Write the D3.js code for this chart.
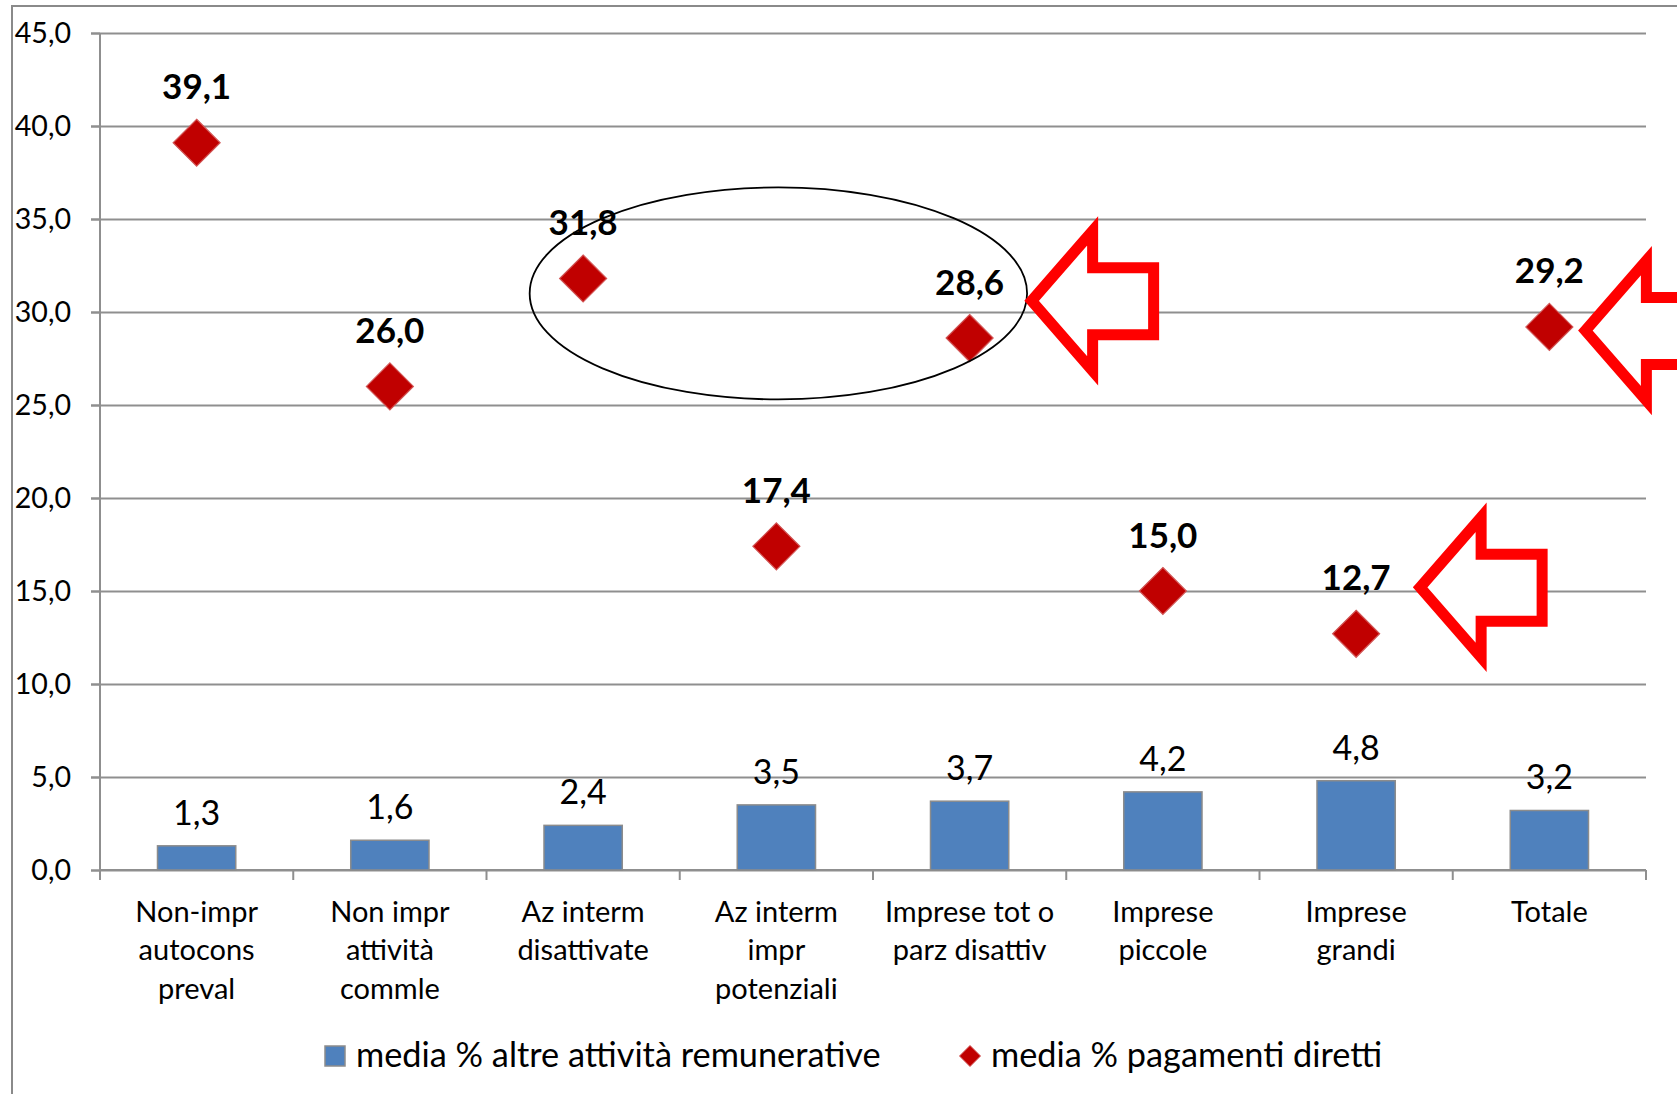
<!DOCTYPE html>
<html>
<head>
<meta charset="utf-8">
<script src="https://cdn.jsdelivr.net/npm/d3@7"></script>
<style>
  body { margin: 0; background: #fff; }
  svg { display: block; font-family: Lato, "Open Sans", sans-serif; }
</style>
</head>
<body>
<div class="canvas"></div>
<script>
// data
const categories = [
  "Non-impr autocons preval",
  "Non impr attività commle",
  "Az interm disattivate",
  "Az interm impr potenziali",
  "Imprese tot o parz disattiv",
  "Imprese piccole",
  "Imprese grandi",
  "Totale"
];
const categoryLines = [
  ["Non-impr", "autocons", "preval"],
  ["Non impr", "attività", "commle"],
  ["Az interm", "disattivate"],
  ["Az interm", "impr", "potenziali"],
  ["Imprese tot o", "parz disattiv"],
  ["Imprese", "piccole"],
  ["Imprese", "grandi"],
  ["Totale"]
];
const altreAttivita = [1.3, 1.6, 2.4, 3.5, 3.7, 4.2, 4.8, 3.2];
const pagamentiDiretti = [39.1, 26.0, 31.8, 17.4, 28.6, 15.0, 12.7, 29.2];
const yTicks = [0, 5, 10, 15, 20, 25, 30, 35, 40, 45];
const legendLabels = ["media % altre attività remunerative", "media % pagamenti diretti"];

// annotations (category, value where the arrow tip sits)
const arrows = [
  { cat: "Imprese tot o parz disattiv", val: 30.6, dx: 60 },
  { cat: "Totale", val: 29.0, dx: 34 },
  { cat: "Imprese grandi", val: 15.2, dx: 62 }
];

const dims = { w: 1677, h: 1094 };
const plot = { left: 100, right: 1646, top: 33, bottom: 870 };

const it = d3.formatLocale({ decimal: ",", thousands: ".", grouping: [3], currency: ["", "€"] });
const fmt = it.format(".1f");

const svg = d3.select(".canvas")
  .append("svg")
  .attr("width", dims.w)
  .attr("height", dims.h);

svg.append("rect").attr("width", dims.w).attr("height", dims.h).attr("fill", "#fff");

// outer chart frame (cropped at right / bottom)
svg.append("path")
  .attr("d", `M12,${dims.h} V6 H${dims.w}`)
  .attr("fill", "none")
  .attr("stroke", "#8a8a8a")
  .attr("stroke-width", 2);

const x = d3.scaleBand()
  .domain(categories)
  .range([plot.left, plot.right]);

const y = d3.scaleLinear()
  .domain([0, 45])
  .range([plot.bottom, plot.top]);

const bw = x.bandwidth();
const cx = c => x(c) + bw / 2;

// gridlines
const grid = svg.append("g")
  .attr("transform", `translate(${plot.left - 9},0)`)
  .call(d3.axisLeft(y).tickValues(yTicks).tickFormat("").tickSize(-(plot.right - plot.left + 9)));
grid.select(".domain").remove();
grid.selectAll("line").attr("stroke", "#8f8f8f").attr("stroke-width", 2);

// y axis
const yAxis = svg.append("g")
  .attr("transform", `translate(${plot.left},0)`)
  .call(d3.axisLeft(y).tickValues(yTicks).tickFormat(fmt).tickSize(9).tickPadding(20));
yAxis.select(".domain").attr("stroke", "#8f8f8f").attr("stroke-width", 2).attr("d", `M0,${plot.top}V${plot.bottom}`);
yAxis.selectAll("line").attr("stroke", "#8f8f8f").attr("stroke-width", 2);
yAxis.selectAll("text")
  .attr("font-size", 28.6)
  .attr("font-family", "Lato, sans-serif")
  .attr("fill", "#000");

// x axis
svg.append("line")
  .attr("x1", plot.left).attr("x2", plot.right)
  .attr("y1", plot.bottom).attr("y2", plot.bottom)
  .attr("stroke", "#8f8f8f").attr("stroke-width", 2);

svg.append("g")
  .selectAll("line")
  .data(categories.map(c => x(c)).concat([plot.right]))
  .enter()
  .append("line")
  .attr("x1", d => d).attr("x2", d => d)
  .attr("y1", plot.bottom).attr("y2", plot.bottom + 10)
  .attr("stroke", "#8f8f8f").attr("stroke-width", 2);

const catLabels = svg.append("g")
  .selectAll("text")
  .data(categories)
  .enter()
  .append("text")
  .attr("text-anchor", "middle")
  .attr("font-size", 29)
  .attr("fill", "#000");

catLabels.selectAll("tspan")
  .data((d, i) => categoryLines[i].map(line => ({ line, c: d })))
  .enter()
  .append("tspan")
  .attr("x", d => cx(d.c))
  .attr("y", (d, j) => 922 + j * 38.3)
  .text(d => d.line);

// bars
const barW = bw * 0.405;
svg.append("g")
  .selectAll("rect")
  .data(altreAttivita)
  .enter()
  .append("rect")
  .attr("x", (d, i) => cx(categories[i]) - barW / 2)
  .attr("y", d => y(d))
  .attr("width", barW)
  .attr("height", d => y(0) - y(d))
  .attr("fill", "#4f81bd")
  .attr("stroke", "#8c8c8c")
  .attr("stroke-width", 1.5);

svg.append("g")
  .selectAll("text")
  .data(altreAttivita)
  .enter()
  .append("text")
  .attr("x", (d, i) => cx(categories[i]))
  .attr("y", d => y(d) - 21)
  .attr("text-anchor", "middle")
  .attr("font-size", 34)
  .attr("fill", "#000")
  .text(d => fmt(d));

// diamonds
const dr = 23.5;
const diamond = (px, py, r) => `M${px},${py - r}L${px + r},${py}L${px},${py + r}L${px - r},${py}Z`;

svg.append("g")
  .selectAll("text")
  .data(pagamentiDiretti)
  .enter()
  .append("text")
  .attr("x", (d, i) => cx(categories[i]))
  .attr("y", d => y(d) - 43.5)
  .attr("text-anchor", "middle")
  .attr("font-size", 35)
  .attr("font-weight", "bold")
  .attr("fill", "#000")
  .text(d => fmt(d));

svg.append("g")
  .selectAll("path")
  .data(pagamentiDiretti)
  .enter()
  .append("path")
  .attr("d", (d, i) => diamond(cx(categories[i]), y(d), dr))
  .attr("fill", "#c00000")
  .attr("stroke", "#d25555")
  .attr("stroke-width", 1.2);

// ellipse highlighting two categories
svg.append("ellipse")
  .attr("cx", cx(categories[3]) + 2)
  .attr("cy", y(31.0))
  .attr("rx", bw * 1.287)
  .attr("ry", y(0) - y(5.7))
  .attr("fill", "none")
  .attr("stroke", "#000")
  .attr("stroke-width", 1.8);

// block arrows
const arrowPath = (tx, ty) => {
  const pts = [
    [tx + 2, ty], [tx + 63, ty - 70], [tx + 63, ty - 33], [tx + 124, ty - 33],
    [tx + 124, ty + 34], [tx + 63, ty + 34], [tx + 63, ty + 70]
  ];
  return "M" + pts.map(p => p.join(",")).join("L") + "Z";
};

svg.append("g")
  .selectAll("path")
  .data(arrows)
  .enter()
  .append("path")
  .attr("d", d => arrowPath(cx(d.cat) + d.dx, y(d.val)))
  .attr("fill", "#fff")
  .attr("stroke", "#ff0000")
  .attr("stroke-width", 11)
  .attr("stroke-miterlimit", 10);

// legend
const legend = svg.append("g");
legend.append("rect")
  .attr("x", 325).attr("y", 1046)
  .attr("width", 20).attr("height", 20)
  .attr("fill", "#4f81bd")
  .attr("stroke", "#8c8c8c")
  .attr("stroke-width", 1.5);
legend.append("text")
  .attr("x", 356).attr("y", 1067)
  .attr("font-size", 34.3)
  .text(legendLabels[0]);
legend.append("path")
  .attr("d", diamond(970, 1056, 10.5))
  .attr("fill", "#c00000")
  .attr("stroke", "#d25555")
  .attr("stroke-width", 1);
legend.append("text")
  .attr("x", 991).attr("y", 1067)
  .attr("font-size", 34.3)
  .text(legendLabels[1]);
</script>
</body>
</html>
